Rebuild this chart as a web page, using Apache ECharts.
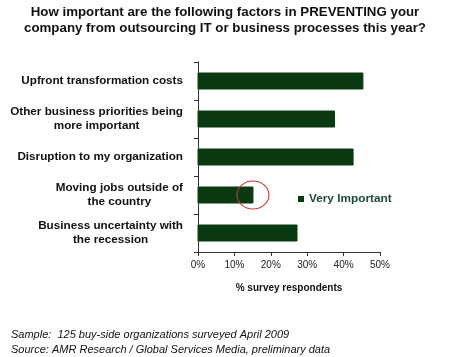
<!DOCTYPE html>
<html><head><meta charset="utf-8">
<script src="https://cdn.jsdelivr.net/npm/echarts@6/dist/echarts.min.js"></script>
<style>html,body{margin:0;padding:0;background:#fff}#c{width:450px;height:357px}</style>
</head><body><div id="c"></div>
<script>
var categories = ["Upfront transformation costs", "Other business priorities being\nmore important", "Disruption to my organization", "Moving jobs outside of\nthe country", "Business uncertainty with\nthe recession"];
var veryImportant = [45.3, 37.5, 42.6, 15.1, 27.2];
var highlightCategory = "Moving jobs outside of\nthe country";
var highlightValue = 15.1;
var xTicks = [0, 10, 20, 30, 40, 50];

var FONT = 'Liberation Sans, Arial, sans-serif';
var chart = echarts.init(document.getElementById('c'), null, {renderer: 'canvas'});
chart.setOption({
  animation: false,
  backgroundColor: '#fff',
  title: [{
    text: 'How important are the following factors in PREVENTING your\ncompany from outsourcing IT or business processes this year?',
    left: 'center', top: 4, padding: [0, 10, 0, 0],
    textStyle: {fontFamily: FONT, fontWeight: 'bold', fontSize: 13.3, lineHeight: 16, color: '#111', align: 'center'}
  }, {
    text: 'Sample:  125 buy-side organizations surveyed April 2009\nSource: AMR Research / Global Services Media, preliminary data',
    left: 6, top: 322,
    textStyle: {fontFamily: FONT, fontStyle: 'italic', fontWeight: 'normal', fontSize: 11, lineHeight: 15, color: '#111'}
  }],
  legend: {
    data: ['Very Important'],
    left: 293, top: 188,
    itemWidth: 6, itemHeight: 6, itemGap: 4,
    icon: 'rect',
    textStyle: {fontFamily: FONT, fontWeight: 'bold', fontSize: 11.8, color: '#1c4a40'}
  },
  grid: {left: 198, top: 62, width: 182, height: 190, containLabel: false},
  xAxis: {
    type: 'value', min: 0, max: 50, interval: 10,
    name: '% survey respondents', nameLocation: 'middle', nameGap: 31,
    nameTextStyle: {fontFamily: FONT, fontWeight: 'bold', fontSize: 10, color: '#111'},
    axisLine: {show: true, lineStyle: {color: '#333', width: 1}},
    axisTick: {show: true, length: 4, lineStyle: {color: '#333'}},
    splitLine: {show: false},
    axisLabel: {fontFamily: FONT, fontSize: 10, color: '#222', margin: 8,
      formatter: function(v){ return xTicks.indexOf(v) >= 0 ? v + '%' : ''; }}
  },
  yAxis: {
    type: 'category', data: categories, inverse: true,
    axisLine: {show: true, lineStyle: {color: '#333', width: 1}},
    axisTick: {show: true, length: 4, lineStyle: {color: '#333'}},
    axisLabel: {
      margin: 15, align: 'right', lineHeight: 14,
      formatter: function(v){ return v.split('\n').map(function(s){ return '{c|' + s + '}'; }).join('\n'); },
      rich: {c: {align: 'center', fontFamily: FONT, fontWeight: 'bold', fontSize: 11.7, color: '#111', lineHeight: 14}}
    }
  },
  series: [{
    name: 'Very Important', type: 'bar', data: veryImportant,
    barWidth: 16,
    itemStyle: {color: '#0b3a12', borderColor: '#0b3a12'},
    markPoint: {
      silent: true,
      symbol: 'circle', symbolSize: [32, 28],
      label: {show: false},
      itemStyle: {color: 'rgba(0,0,0,0)', borderColor: '#c03a3a', borderWidth: 1},
      data: [{coord: [highlightValue, highlightCategory]}]
    }
  }]
});
</script></body></html>
